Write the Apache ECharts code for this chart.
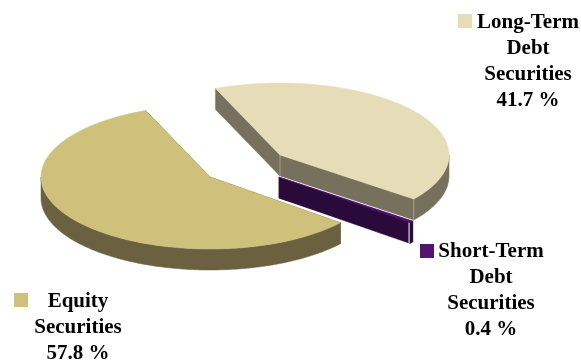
<!DOCTYPE html>
<html>
<head>
<meta charset="utf-8">
<style>html,body{margin:0;padding:0;background:#fff}#chart{width:581px;height:361px}</style>
<script src="https://cdn.jsdelivr.net/npm/echarts@6/dist/echarts.min.js"></script>
</head>
<body>
<div id="chart"></div>
<script>
// Portfolio composition, in percent
const sliceNames = ['Equity Securities', 'Long-Term Debt Securities', 'Short-Term Debt Securities'];
const sliceValues = [57.8, 41.7, 0.4];
const labelLines = [['Equity', 'Securities'], ['Long-Term', 'Debt', 'Securities'], ['Short-Term', 'Debt', 'Securities']];

const faceColors = ['#cfc07c', '#e6ddb8', '#52146f'];
const wallColors = ['#6b6040', '#77705c', '#2a0a3a'];
const seamColors = ['#6b6040', '#a5a08e', '#ffffff'];

// Tilted-pie projection
const radiusX = 169, radiusY = 72, depth = 21;
const firstAngle = 39.5;
const explodedCentres = [[210, 177], [280, 155], [279, 177]];
const labelPlacement = [
  {swatch: [14, 293], textX: 78, textTop: 289},
  {swatch: [458, 14], textX: 528, textTop: 10},
  {swatch: [420, 244], textX: 491, textTop: 238.5}
];

const rim = (c, deg, drop) => {
  const a = deg * Math.PI / 180;
  return [c[0] + radiusX * Math.cos(a), c[1] + radiusY * Math.sin(a) + drop];
};
const arc = (c, from, to, drop) => {
  const steps = Math.max(2, Math.ceil(Math.abs(to - from)));
  const pts = [];
  for (let i = 0; i <= steps; i++) pts.push(rim(c, from + (to - from) * i / steps, drop));
  return pts;
};

// Starting angle of each slice, walking clockwise around the ellipse
const startAngles = [];
sliceValues.reduce((acc, v, i) => { startAngles[i] = acc; return acc + v * 3.6; }, firstAngle);

function renderSlice(params, api) {
  const i = params.dataIndex;
  const c = explodedCentres[i];
  const from = startAngles[i], to = from + api.value(0) * 3.6;
  const wallStyle = {fill: wallColors[i], stroke: wallColors[i], lineWidth: 0.5};
  const children = [];

  [from, to].forEach(a => {
    const p = rim(c, a, 0);
    children.push({type: 'polygon', shape: {points: [c, p, [p[0], p[1] + depth], [c[0], c[1] + depth]]}, style: wallStyle});
  });

  // Outer wall: only the front half of the ellipse shows
  for (const base of [0, 360]) {
    const lo = Math.max(from, base), hi = Math.min(to, base + 180);
    if (hi > lo) {
      children.push({type: 'polygon', shape: {points: arc(c, lo, hi, 0).concat(arc(c, hi, lo, depth))}, style: wallStyle});
    }
  }

  // Vertical seams where the walls meet
  const seamStyle = {stroke: seamColors[i], lineWidth: 1, fill: null};
  if (i === 1) {
    children.push({type: 'line', shape: {x1: c[0], y1: c[1], x2: c[0], y2: c[1] + depth}, style: seamStyle});
    const e = rim(c, to, 0);
    children.push({type: 'line', shape: {x1: e[0], y1: e[1], x2: e[0], y2: e[1] + depth}, style: seamStyle});
  }
  if (i === 2) {
    const e = rim(c, to, 0);
    children.push({type: 'line', shape: {x1: e[0] - 1, y1: e[1], x2: e[0] - 1, y2: e[1] + depth}, style: seamStyle});
    const s = rim(c, from, 0);
    children.push({type: 'line', shape: {x1: c[0], y1: c[1] - 0.5, x2: s[0], y2: s[1] - 0.5}, style: seamStyle});
  }

  children.push({
    type: 'polygon',
    shape: {points: [c].concat(arc(c, from, to, 0))},
    style: {fill: faceColors[i], stroke: faceColors[i], lineWidth: 0.5}
  });
  return {type: 'group', children};
}

const labelFont = 'bold 21px "Liberation Serif", serif';
const labelGraphics = [];
sliceValues.forEach((v, i) => {
  const place = labelPlacement[i];
  labelGraphics.push({
    type: 'rect', silent: true,
    shape: {x: place.swatch[0], y: place.swatch[1], width: 14, height: 14},
    style: {fill: faceColors[i]}
  });
  labelGraphics.push({
    type: 'text', silent: true, x: place.textX, y: place.textTop,
    style: {
      text: labelLines[i].concat(v.toFixed(1) + ' %').join('\n'),
      font: labelFont, fill: '#000', align: 'center', verticalAlign: 'top', lineHeight: 26
    }
  });
});

const chart = echarts.init(document.getElementById('chart'), null, {renderer: 'canvas'});
chart.setOption({
  animation: false,
  backgroundColor: '#ffffff',
  series: [{
    type: 'custom',
    coordinateSystem: 'none',
    silent: true,
    renderItem: renderSlice,
    data: sliceValues.map((v, i) => ({name: sliceNames[i], value: [v]}))
  }],
  graphic: labelGraphics
});
</script>
</body>
</html>
